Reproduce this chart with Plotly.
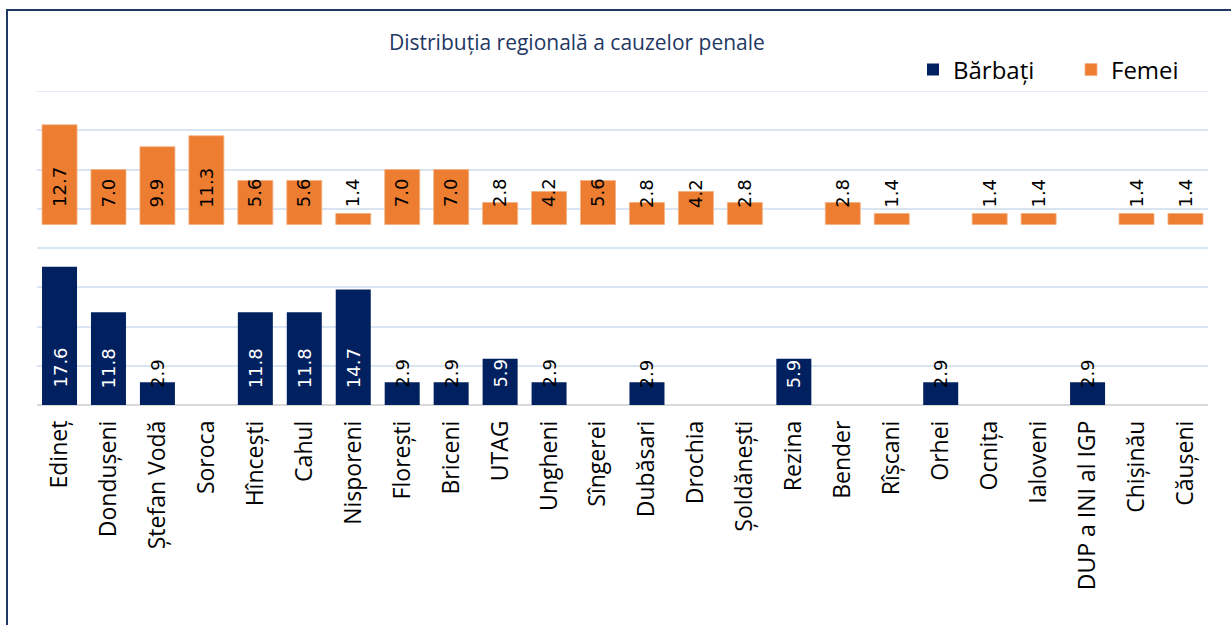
import plotly.graph_objects as go

categories = ["Edineț", "Dondușeni", "Ștefan Vodă", "Soroca", "Hîncești", "Cahul",
              "Nisporeni", "Florești", "Briceni", "UTAG", "Ungheni", "Sîngerei",
              "Dubăsari", "Drochia", "Șoldănești", "Rezina", "Bender", "Rîșcani",
              "Orhei", "Ocnița", "Ialoveni", "DUP a INI al IGP", "Chișinău", "Căușeni"]
barbati = [17.6, 11.8, 2.9, None, 11.8, 11.8, 14.7, 2.9, 2.9, 5.9, 2.9, None,
           2.9, None, None, 5.9, None, None, 2.9, None, None, 2.9, None, None]
femei = [12.7, 7.0, 9.9, 11.3, 5.6, 5.6, 1.4, 7.0, 7.0, 2.8, 4.2, 5.6,
         2.8, 4.2, 2.8, None, 2.8, 1.4, None, 1.4, 1.4, None, 1.4, 1.4]

TITLE = "Distribuția regională a cauzelor penale"
NAVY = "#002060"
ORANGE = "#ED7D31"
GRID = "#DAE5F3"
FEMEI_BASE = 23.0
Y_MAX = 40

W, H = 1231, 625
ML, MR, MT, MB = 37, 23, 91, 220
PW, PH = W - ML - MR, H - MT - MB

fig = go.Figure()
fig.add_trace(go.Bar(x=categories, y=barbati, name="Bărbați",
                     marker=dict(color=NAVY, line=dict(width=0)), width=0.715))
fig.add_trace(go.Bar(x=categories, y=femei, base=FEMEI_BASE, name="Femei",
                     marker=dict(color=ORANGE, line=dict(color="#F4B183", width=0.8)),
                     width=0.715))

annotations = []
for c, v in zip(categories, barbati):
    if v is None:
        continue
    annotations.append(dict(x=c, y=0, xref="x", yref="y", text=f"{v:.1f}",
                            textangle=-90, showarrow=False, yshift=15,
                            xanchor="center", yanchor="bottom",
                            font=dict(family="DejaVu Sans", size=18,
                                      color="white" if v >= 5 else "black")))
for c, v in zip(categories, femei):
    if v is None:
        continue
    annotations.append(dict(x=c, y=FEMEI_BASE, xref="x", yref="y", text=f"{v:.1f}",
                            textangle=-90, showarrow=False, yshift=15,
                            xanchor="center", yanchor="bottom",
                            font=dict(family="DejaVu Sans", size=18, color="black")))

annotations.append(dict(x=(577 - ML) / PW, y=(H - MB - 42) / PH, xref="paper", yref="paper",
                        text=TITLE, showarrow=False, xanchor="center", yanchor="middle",
                        font=dict(family="Open Sans", size=21, color="#1F3864")))

fig.update_layout(
    width=W, height=H,
    margin=dict(l=ML, r=MR, t=MT, b=MB, pad=0, autoexpand=False),
    paper_bgcolor="white", plot_bgcolor="white",
    barmode="overlay",
    showlegend=True,
    legend=dict(orientation="h", x=(913 - ML) / PW, y=(H - MB - 70) / PH,
                xanchor="left", yanchor="middle",
                font=dict(family="Open Sans", size=24, color="black"),
                itemwidth=30, entrywidth=113, entrywidthmode="pixels",
                bgcolor="rgba(0,0,0,0)", traceorder="normal"),
    annotations=annotations,
    xaxis=dict(type="category", range=[-0.46, 23.46], showgrid=False,
               tickangle=-90, ticks="", showline=False, zeroline=False,
               ticklabelstandoff=10,
               tickfont=dict(family="Open Sans", size=23, color="black")),
    yaxis=dict(range=[0, Y_MAX], tickvals=[5, 10, 15, 20, 25, 30, 35, 40],
               showticklabels=False, showgrid=True,
               gridcolor=GRID, gridwidth=1.5, zeroline=True,
               zerolinecolor="#D9D9D9", zerolinewidth=2, ticks=""),
    shapes=[dict(type="line", xref="paper", yref="y", x0=0, x1=1, y0=Y_MAX, y1=Y_MAX,
                 line=dict(color=GRID, width=1.5), layer="below"),
            dict(type="rect", xref="paper", yref="paper",
                 x0=(7 - ML) / PW, x1=2.0, y0=-2.0, y1=(H - MB - 10) / PH,
                 line=dict(color="#1F3864", width=2), fillcolor="rgba(0,0,0,0)",
                 layer="below")],
)

fig.write_html("out.html", config={"displayModeBar": False},
               post_script="document.body.style.margin='0';")
